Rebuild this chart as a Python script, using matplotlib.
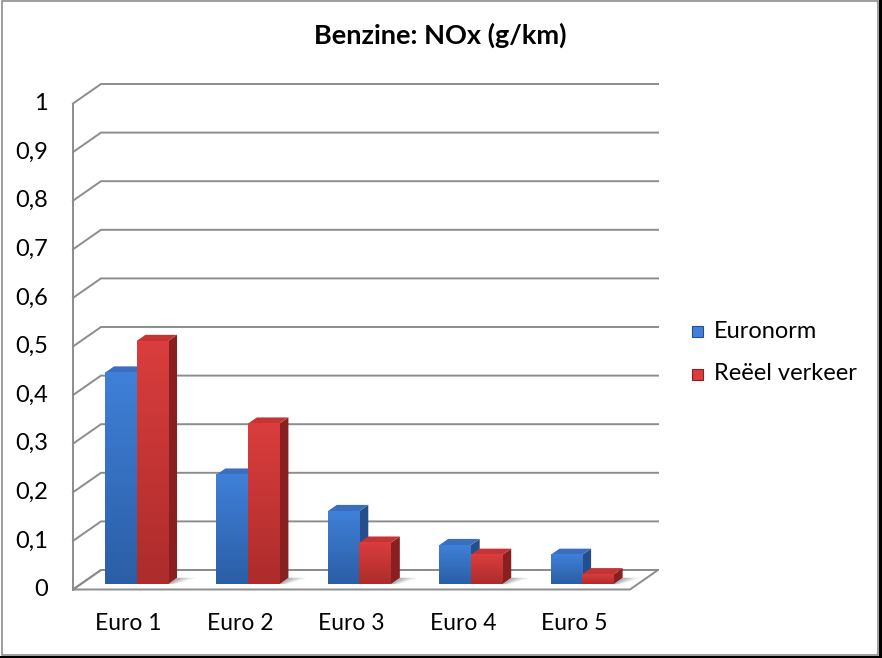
import numpy as np
import matplotlib
matplotlib.use("Agg")
import matplotlib.pyplot as plt
from matplotlib.colors import LinearSegmentedColormap
from matplotlib.patches import Polygon, Rectangle

plt.rcParams['font.family'] = ['Lato', 'DejaVu Sans']

categories = ['Euro 1', 'Euro 2', 'Euro 3', 'Euro 4', 'Euro 5']
euronorm = [0.435, 0.225, 0.15, 0.08, 0.06]
reeel = [0.50, 0.33, 0.085, 0.06, 0.02]
series_names = ['Euronorm', 'Reëel verkeer']
yticks = np.arange(0, 1.01, 0.1)

# colours: front top, front bottom, side, top face
colors = [
    ('#3f80d8', '#2b5ea6', '#254f8c', '#3a6fc0'),
    ('#da3d3d', '#ad2c2c', '#8a1f1f', '#c53434'),
]

W, H = 882, 658
fig = plt.figure(figsize=(W / 100, H / 100), dpi=100)

# plot area in pixels: front axis at x=73, floor front edge 73..630, y 0 -> 589.5, 1 -> 103.5
px_left, px_right = 73, 630
px_bottom, px_top = 589.5, 103.5
ax = fig.add_axes([px_left / W, 1 - px_bottom / H,
                   (px_right - px_left) / W, (px_bottom - px_top) / H])
ax.set_xlim(0, len(categories))
ax.set_ylim(0, 1)
ax.axis('off')

cat_px = (px_right - px_left) / len(categories)
val_px = px_bottom - px_top
DX = 28 / cat_px        # depth offset in category units
DY = 19.5 / val_px      # depth offset in value units
n = len(categories)
grid_c = '#8c8c8c'

# floor
ax.add_patch(Polygon([(0, 0), (n, 0), (n + DX, DY), (DX, DY)], closed=True,
                     facecolor='white', edgecolor=grid_c, lw=1.4, clip_on=False, zorder=1))
# back wall gridlines + left wall diagonals
for v in yticks:
    ax.plot([0, DX, n + DX], [v, v + DY, v + DY], color=grid_c, lw=1.4,
            clip_on=False, zorder=1, solid_joinstyle='miter')
ax.plot([0, 0], [0, 1], color=grid_c, lw=1.4, clip_on=False, zorder=2)

# bars
bw = 0.283
f0, f1 = 0.28, 0.60
for i in range(n):
    for s, vals in enumerate([euronorm, reeel]):
        v = vals[i]
        ctop, cbot, cside, ctopface = colors[s]
        x0 = i + 0.5 - bw + s * bw
        fx, fy = x0 + f0 * DX, f0 * DY
        bx, by = x0 + f1 * DX, f1 * DY
        # soft shadow on floor
        for k, (ext, a) in enumerate([(0.16, 0.18), (0.10, 0.25), (0.05, 0.3)]):
            ax.add_patch(Polygon([(fx + bw - 0.01, fy), (bx + bw, by),
                                  (bx + bw + ext, by), (fx + bw + ext * 0.4, fy)],
                                 closed=True, facecolor='#808080', alpha=a, edgecolor='none',
                                 clip_on=False, zorder=3))
        # side face
        ax.add_patch(Polygon([(fx + bw, fy), (bx + bw, by), (bx + bw, by + v), (fx + bw, fy + v)],
                             closed=True, facecolor=cside, edgecolor='none',
                             clip_on=False, zorder=4 + i * 3 + s))
        # top face
        ax.add_patch(Polygon([(fx, fy + v), (fx + bw, fy + v), (bx + bw, by + v), (bx, by + v)],
                             closed=True, facecolor=ctopface, edgecolor='none',
                             clip_on=False, zorder=4 + i * 3 + s))
        # front face with gradient
        cmap = LinearSegmentedColormap.from_list('g', [cbot, ctop])
        grad = np.linspace(0, 1, 100).reshape(-1, 1)
        ax.imshow(grad, cmap=cmap, aspect='auto', origin='lower',
                  extent=(fx, fx + bw, fy, fy + v), zorder=4.5 + i * 3 + s,
                  interpolation='bilinear', clip_on=False)

ax.set_xlim(0, n)
ax.set_ylim(0, 1)

# tick labels
for v in yticks:
    lab = ('%.1f' % v).replace('.', ',') if 0 < v < 0.999 else '%d' % round(v)
    ax.text(-25 / cat_px, v, lab, ha='right', va='center', fontsize=17,
            color='black', clip_on=False)
for i, c in enumerate(categories):
    ax.text(i + 0.5, -(624 - px_bottom) / val_px, c, ha='center', va='center',
            fontsize=16.5, color='black', clip_on=False)

# title
fig.text(440 / W, 1 - 35 / H, 'Benzine: NOx (g/km)', ha='center', va='center',
         fontsize=19.5, fontweight='bold')

# legend
for s, name in enumerate(series_names):
    yc = 331 + s * 43
    fig.patches.append(Rectangle((692 / W, 1 - (yc + 5.5) / H), 11 / W, 11 / H,
                                 transform=fig.transFigure, facecolor=colors[s][0],
                                 edgecolor=colors[s][2], lw=0.8))
    fig.text(714 / W, 1 - yc / H, name, ha='left', va='center', fontsize=17)

# chart border
fig.patches.append(Rectangle((2 / W, 3 / H), 876 / W, 654 / H, transform=fig.transFigure,
                             facecolor='none', edgecolor='#8c8c8c', lw=1.2))
fig.patches.append(Rectangle((879 / W, 0), 3 / W, 1, transform=fig.transFigure,
                             facecolor='black', edgecolor='none'))
fig.patches.append(Rectangle((0, 0), 1, 2.5 / H, transform=fig.transFigure,
                             facecolor='black', edgecolor='none'))

fig.savefig('out.png', dpi=100)
